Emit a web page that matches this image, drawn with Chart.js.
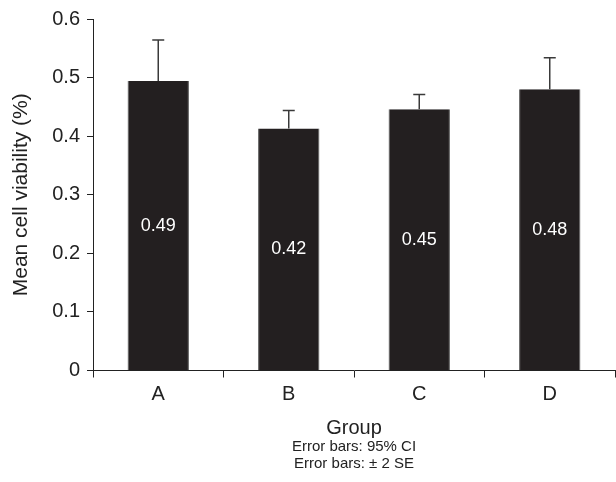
<!DOCTYPE html>
<html>
<head>
<meta charset="utf-8">
<script src="https://cdn.jsdelivr.net/npm/chart.js@4"></script>
<style>
  body { margin: 0; background: #fff; }
</style>
</head>
<body>
<canvas id="viability_chart" width="616" height="482"></canvas>
<script>
const groups = ["A", "B", "C", "D"];
const means = [0.494, 0.413, 0.446, 0.48];
const upperCI = [0.564, 0.444, 0.471, 0.534];
const barLabels = ["0.49", "0.42", "0.45", "0.48"];
const yTicks = [0, 0.1, 0.2, 0.3, 0.4, 0.5, 0.6];
const footLines = ["Error bars: 95% CI", "Error bars: \u00B1 2 SE"];

const FONT = "'Liberation Sans', Arial, sans-serif";

// upper whiskers + value labels inside bars
const barExtras = {
  id: "barExtras",
  afterDatasetsDraw(chart) {
    const c = chart.ctx;
    const y = chart.scales.y;
    const bars = chart.getDatasetMeta(0).data;
    c.save();
    bars.forEach((bar, i) => {
      const top = y.getPixelForValue(upperCI[i]);
      c.strokeStyle = "#3a3a3a";
      c.lineWidth = 1.5;
      c.beginPath();
      c.moveTo(bar.x, bar.y);
      c.lineTo(bar.x, top);
      c.moveTo(bar.x - 6, top);
      c.lineTo(bar.x + 6, top);
      c.stroke();

      c.fillStyle = "#fff";
      c.font = "18px " + FONT;
      c.textAlign = "center";
      c.textBaseline = "middle";
      c.fillText(barLabels[i], bar.x, (bar.y + bar.base) / 2);
    });

    // footnote lines under the axis title
    const area = chart.chartArea;
    const cx = (area.left + area.right) / 2;
    c.fillStyle = "#222";
    c.font = "15px " + FONT;
    c.fillText(footLines[0], cx, 447);
    c.fillText(footLines[1], cx, 464);
    c.restore();
  }
};

new Chart(document.getElementById("viability_chart"), {
  type: "bar",
  data: {
    labels: groups,
    datasets: [
      {
        data: means,
        backgroundColor: "#231f20",
        borderColor: "#555",
        borderWidth: { left: 1, right: 1, top: 0, bottom: 0 },
        barPercentage: 0.47,
        categoryPercentage: 1,
      },
    ],
  },
  options: {
    responsive: false,
    animation: false,
    layout: {
      padding: { top: 13, right: 1, bottom: 42, left: 0 },
    },
    scales: {
      y: {
        min: 0,
        max: 0.6,
        afterBuildTicks: (axis) => {
          axis.ticks = yTicks.map((v) => ({ value: v }));
        },
        ticks: {
          color: "#222",
          padding: 7,
          font: { family: FONT, size: 20 },
          callback: (v) => (v === 0 ? "0" : v.toFixed(1)),
        },
        grid: {
          drawOnChartArea: false,
          drawTicks: true,
          tickLength: 6,
          color: "#222",
        },
        border: { display: true, color: "#222", width: 1 },
        title: {
          display: true,
          text: "Mean cell viability (%)",
          color: "#222",
          font: { family: FONT, size: 21 },
          padding: { top: 9, bottom: 11 },
        },
      },
      x: {
        offset: true,
        ticks: {
          color: "#222",
          padding: 5,
          font: { family: FONT, size: 20 },
        },
        grid: {
          offset: true,
          drawOnChartArea: false,
          drawTicks: true,
          tickLength: 7,
          color: "#222",
        },
        border: { display: true, color: "#222", width: 1 },
        title: {
          display: true,
          text: "Group",
          color: "#222",
          font: { family: FONT, size: 20 },
          padding: { top: 4.5, bottom: 0 },
        },
      },
    },
    plugins: {
      legend: { display: false },
      tooltip: { enabled: false },
    },
  },
  plugins: [barExtras],
});
</script>
</body>
</html>
